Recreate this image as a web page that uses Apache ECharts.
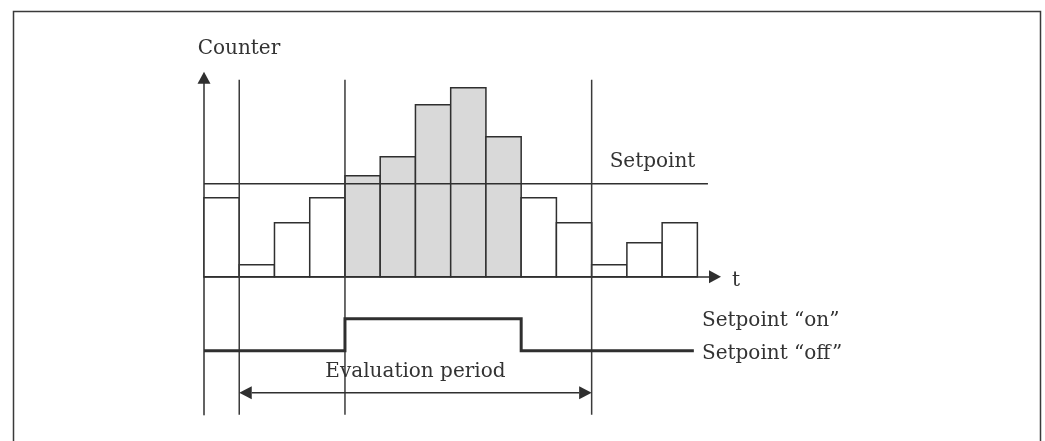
<!DOCTYPE html>
<html>
<head>
<meta charset="utf-8">
<script src="https://cdn.jsdelivr.net/npm/echarts@6/dist/echarts.min.js"></script>
<style>
  html, body { margin: 0; padding: 0; background: #fff; }
  #chart { width: 1045px; height: 441px; }
</style>
</head>
<body>
<div id="chart"></div>
<script>
// Counter value per time slot (one bar per slot, slots are 1 unit wide)
const counts = [7.9, 1.2, 5.4, 7.9, 10.1, 12.0, 17.2, 18.9, 14.0, 7.9, 5.4, 1.2, 3.4, 5.4];
// Limit value drawn as the horizontal "Setpoint" line
const setpoint = 9.3;
const setpointLineEnd = 14.3;
// Slot boundaries marked with vertical guide lines
const guideMarks = [1, 4, 11];
const guideTop = 19.7;
// Evaluation period, from slot boundary to slot boundary
const evaluationPeriod = [1, 11];
const evaluationLevel = -11.6;
// Relay output levels and its switching points
const relayOff = -7.4;
const relayOn = -4.2;
const relayPoints = [[0, relayOff], [4, relayOn], [9, relayOff], [13.9, relayOff]];
// Text notes: [x, y, text, align]
const notes = [
  [-0.18, 22.8, 'Counter', 'left'],
  [11.51, 11.5, 'Setpoint', 'left'],
  [14.98, -0.4, 't', 'left'],
  [14.13, -4.4, 'Setpoint \u201Con\u201D', 'left'],
  [14.13, -7.7, 'Setpoint \u201Coff\u201D', 'left'],
  [6, -9.5, 'Evaluation period', 'center']
];

const ink = '#2f2f2f';
const thin = 1.5;
const textFont = '20px "DejaVu Serif"';
const arrowLen = 12.5;
const arrowHalf = 6.5;

const chart = echarts.init(document.getElementById('chart'), null, { renderer: 'canvas' });

const option = {
  animation: false,
  backgroundColor: '#ffffff',
  grid: { left: 204, right: 330, top: 77.7, bottom: 26.3, containLabel: false },
  xAxis: {
    type: 'value', min: 0, max: 14.5,
    axisLine: { onZero: true, symbol: ['none', 'triangle'], symbolSize: [13, 12],
                lineStyle: { color: ink, width: thin } },
    axisTick: { show: false }, axisLabel: { show: false }, splitLine: { show: false }
  },
  yAxis: {
    type: 'value', min: -13.8, max: 19.9,
    axisLine: { show: true, symbol: ['none', 'triangle'], symbolSize: [13, 12],
                lineStyle: { color: ink, width: thin } },
    axisTick: { show: false }, axisLabel: { show: false }, splitLine: { show: false }
  },
  graphic: [{
    type: 'rect', left: 11, top: 9, silent: true,
    shape: { x: 0, y: 0, width: 1027, height: 480 },
    style: { fill: 'none', stroke: '#3a3a3a', lineWidth: 1.5 }
  }],
  series: [
    {
      // counter bars; slots above the setpoint are shaded
      type: 'custom', name: 'counts', z: 2,
      data: counts.map((v, i) => [i, v]),
      renderItem: function (params, api) {
        const i = api.value(0), v = api.value(1);
        const p0 = api.coord([i, v]);
        const p1 = api.coord([i + 1, 0]);
        return {
          type: 'rect',
          shape: { x: p0[0], y: p0[1], width: p1[0] - p0[0], height: p1[1] - p0[1] },
          style: { fill: v > setpoint ? '#d9d9d9' : '#ffffff', stroke: ink, lineWidth: thin }
        };
      }
    },
    {
      // setpoint line
      type: 'custom', name: 'setpoint', z: 3,
      data: [[0, setpoint, setpointLineEnd]],
      renderItem: function (params, api) {
        const a = api.coord([api.value(0), api.value(1)]);
        const b = api.coord([api.value(2), api.value(1)]);
        return { type: 'line', shape: { x1: a[0], y1: a[1], x2: b[0], y2: b[1] },
                 style: { stroke: ink, lineWidth: thin } };
      }
    },
    {
      // vertical guides at slot boundaries
      type: 'custom', name: 'guides', z: 3,
      data: guideMarks.map(x => [x, guideTop]),
      renderItem: function (params, api) {
        const a = api.coord([api.value(0), api.value(1)]);
        const b = api.coord([api.value(0), -13.8]);
        return { type: 'line', shape: { x1: a[0], y1: a[1], x2: b[0], y2: b[1] },
                 style: { stroke: '#3a3a3a', lineWidth: thin } };
      }
    },
    {
      // evaluation period double arrow
      type: 'custom', name: 'period', z: 3,
      data: [[evaluationPeriod[0], evaluationPeriod[1], evaluationLevel]],
      renderItem: function (params, api) {
        const a = api.coord([api.value(0), api.value(2)]);
        const b = api.coord([api.value(1), api.value(2)]);
        return {
          type: 'group',
          children: [
            { type: 'line', shape: { x1: a[0] + arrowLen, y1: a[1], x2: b[0] - arrowLen, y2: b[1] },
              style: { stroke: ink, lineWidth: thin } },
            { type: 'polygon', shape: { points: [[a[0], a[1]], [a[0] + arrowLen, a[1] - arrowHalf], [a[0] + arrowLen, a[1] + arrowHalf]] },
              style: { fill: ink } },
            { type: 'polygon', shape: { points: [[b[0], b[1]], [b[0] - arrowLen, b[1] - arrowHalf], [b[0] - arrowLen, b[1] + arrowHalf]] },
              style: { fill: ink } }
          ]
        };
      }
    },
    {
      // relay output
      type: 'line', name: 'relay', z: 4,
      step: 'end', symbol: 'none',
      data: relayPoints,
      lineStyle: { color: ink, width: 3, join: 'miter', cap: 'butt' }
    },
    {
      // text notes
      type: 'custom', name: 'notes', z: 5,
      data: notes,
      renderItem: function (params, api) {
        const n = notes[params.dataIndex];
        const p = api.coord([n[0], n[1]]);
        return {
          type: 'text', x: p[0], y: p[1],
          style: { text: n[2], font: textFont, fill: '#333333', align: n[3], verticalAlign: 'middle' }
        };
      }
    }
  ]
};

chart.setOption(option);
</script>
</body>
</html>
